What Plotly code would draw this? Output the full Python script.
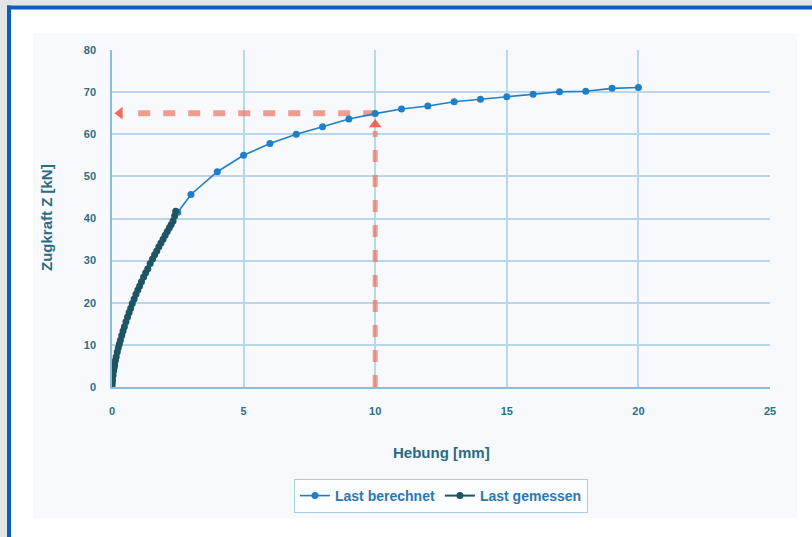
import plotly.graph_objects as go

# ---- data ----
calc_x = [2.5, 3, 4, 5, 6, 7, 8, 9, 10, 11, 12, 13, 14, 15, 16, 17, 18, 19, 20]
calc_y = [41.5, 45.7, 51.1, 55, 57.8, 60, 61.8, 63.6, 64.9, 66, 66.7, 67.7, 68.3,
          68.9, 69.5, 70.1, 70.2, 70.9, 71.1]

meas_x = [0, 0.01, 0.02, 0.04, 0.06, 0.08, 0.1, 0.13, 0.16, 0.2, 0.24, 0.28, 0.32, 0.37, 0.42, 0.47,
          0.53, 0.59, 0.65, 0.71, 0.77, 0.84, 0.91, 0.98, 1.05, 1.12, 1.2, 1.28, 1.36, 1.45, 1.54, 1.62,
          1.7, 1.78, 1.86, 1.94, 2.02, 2.1, 2.18, 2.25, 2.32, 2.38, 2.42]
meas_y = [0, 0.8, 1.6, 2.8, 3.8, 4.6, 5.3, 6.3, 7.2, 8.3, 9.3, 10.2, 11.1, 12.2, 13.3, 14.3,
          15.5, 16.6, 17.7, 18.7, 19.8, 20.9, 22.0, 23.0, 24.0, 25.0, 26.1, 27.1, 28.1, 29.3, 30.4, 31.4,
          32.3, 33.3, 34.2, 35.1, 36.0, 36.9, 37.8, 38.6, 39.4, 40.6, 41.7]

read_x = 10       # Hebung reading
read_y = 65       # Zugkraft reading
arrow_end_x = 0.3
arrow_end_y = 62.3

x_ticks = [0, 5, 10, 15, 20, 25]
y_ticks = [0, 10, 20, 30, 40, 50, 60, 70, 80]

# ---- layout geometry (pixels) ----
W, H = 812, 537
L, R, T, B = 112, 770, 50, 387

def px(xp):
    return (xp - L) / (R - L)

def py(yp):
    return (B - yp) / (B - T)

FONT = "Liberation Sans Narrow, Arial Narrow, Liberation Sans, Arial"
TXT = "#2f6d86"
RED = "rgba(240,110,90,0.68)"

fig = go.Figure()

# red reading lines
fig.add_trace(go.Scatter(x=[read_x, read_x], y=[0, arrow_end_y - 1.5], mode="lines",
                         line=dict(color=RED, width=5, dash="12px,13px"),
                         hoverinfo="skip", showlegend=False))
fig.add_trace(go.Scatter(x=[read_x, arrow_end_x + 0.4], y=[read_y, read_y], mode="lines",
                         line=dict(color=RED, width=6, dash="12px,13px"),
                         hoverinfo="skip", showlegend=False))
fig.add_trace(go.Scatter(x=[read_x], y=[arrow_end_y], mode="markers",
                         marker=dict(symbol="triangle-up", size=11, color="rgba(238,80,60,0.85)"),
                         hoverinfo="skip", showlegend=False))
fig.add_trace(go.Scatter(x=[arrow_end_x], y=[read_y], mode="markers",
                         marker=dict(symbol="triangle-left", size=11, color="rgba(238,80,60,0.85)"),
                         hoverinfo="skip", showlegend=False))

fig.add_trace(go.Scatter(x=calc_x, y=calc_y, mode="lines+markers", name="Last berechnet",
                         line=dict(color="#1f7fc6", width=1.6),
                         marker=dict(color="#1f7fc6", size=7)))
fig.add_trace(go.Scatter(x=meas_x, y=meas_y, mode="lines+markers", name="Last gemessen",
                         line=dict(color="#1e5563", width=2),
                         marker=dict(color="#1e5563", size=7)))

shapes = [
    dict(type="rect", xref="paper", yref="paper", x0=px(33), x1=px(797), y0=py(518), y1=py(33),
         fillcolor="#f7f9fc", line=dict(width=0), layer="below"),
    dict(type="rect", xref="paper", yref="paper", x0=px(0), x1=px(812), y0=py(5.5), y1=py(0),
         fillcolor="#e3e4e6", line=dict(width=0), layer="below"),
    dict(type="rect", xref="paper", yref="paper", x0=px(0), x1=px(7), y0=py(537), y1=py(0),
         fillcolor="#e3e4e6", line=dict(width=0), layer="below"),
    dict(type="rect", xref="paper", yref="paper", x0=px(7), x1=px(812), y0=py(9.5), y1=py(5.5),
         fillcolor="#0d5fb6", line=dict(width=0), layer="below"),
    dict(type="rect", xref="paper", yref="paper", x0=px(7), x1=px(11), y0=py(537), y1=py(5.5),
         fillcolor="#0d5fb6", line=dict(width=0), layer="below"),
]

annotations = [
    dict(text="Hebung [mm]", xref="paper", yref="paper", x=px(441), y=py(453), showarrow=False,
         font=dict(family=FONT, size=15, color="#2a6a84", weight="bold"), xanchor="center", yanchor="middle"),
    dict(text="Zugkraft Z [kN]", xref="paper", yref="paper", x=px(46), y=py(218), showarrow=False,
         textangle=-90, font=dict(family=FONT, size=15, color="#2a6a84", weight="bold"),
         xanchor="center", yanchor="middle"),
]

fig.update_layout(
    width=W, height=H,
    margin=dict(l=L, r=W - R, t=T, b=H - B),
    paper_bgcolor="white",
    plot_bgcolor="rgba(0,0,0,0)",
    shapes=shapes,
    annotations=annotations,
    showlegend=True,
    legend=dict(orientation="h", x=0.5, xanchor="center", y=py(479), yanchor="top",
                bordercolor="#a8cde2", borderwidth=1, bgcolor="rgba(255,255,255,0.6)",
                font=dict(family=FONT, size=14, color="#2a78b0", weight="bold"),
                itemwidth=30, tracegroupgap=0),
    xaxis=dict(range=[0, 25], tickvals=x_ticks, showgrid=True, gridcolor="#b8d7ea", gridwidth=1.5,
               zeroline=False, showline=True, linecolor="#8dbcd8", linewidth=1.5, mirror=False,
               ticks="", ticklabelstandoff=13,
               tickfont=dict(family=FONT, size=11, color=TXT, weight="bold")),
    yaxis=dict(range=[0, 80], tickvals=y_ticks, showgrid=True, gridcolor="#b8d7ea", gridwidth=1.5,
               zeroline=False, showline=True, linecolor="#8dbcd8", linewidth=1.5,
               ticks="", ticklabelstandoff=12,
               tickfont=dict(family=FONT, size=11, color=TXT, weight="bold")),
)

fig.write_html("out.html")
